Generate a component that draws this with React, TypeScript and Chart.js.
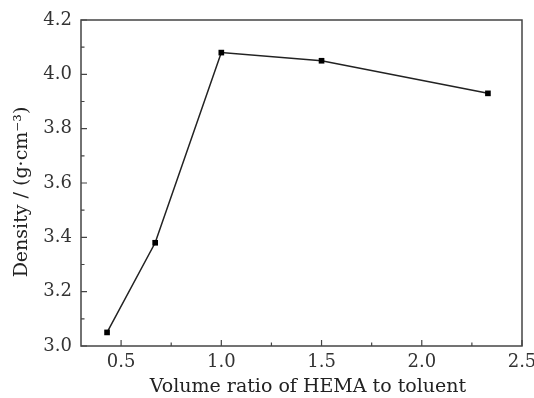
import { useEffect, useRef } from "react";
import { Chart, registerables } from "chart.js";
Chart.register(...registerables);

const ratios = [0.43, 0.67, 1.0, 1.5, 2.33];
const densities = [3.05, 3.38, 4.08, 4.05, 3.93];
const xTickValues = [0.5, 1.0, 1.5, 2.0, 2.5];
const yTickValues = [3.0, 3.2, 3.4, 3.6, 3.8, 4.0, 4.2];
const xMinorValues = [0.75, 1.25, 1.75, 2.25];
const yMinorValues = [3.1, 3.3, 3.5, 3.7, 3.9, 4.1];
const xTitle = "Volume ratio of HEMA to toluent";
const yTitle = "Density / (g·cm⁻³)";

const FONT = "'DejaVu Serif', 'Liberation Serif', serif";

const framePlugin = {
  id: "frameTicks",
  afterDraw(chart: any) {
    const { ctx, chartArea: a, scales } = chart;
    const x = scales.x, y = scales.y;
    ctx.save();
    ctx.strokeStyle = "#444";
    ctx.lineWidth = 1.5;
    ctx.strokeRect(a.left, a.top, a.right - a.left, a.bottom - a.top);
    ctx.lineWidth = 1.2;
    ctx.beginPath();
    for (const v of xTickValues) {
      const px = x.getPixelForValue(v);
      ctx.moveTo(px, a.bottom);
      ctx.lineTo(px, a.bottom - 6);
    }
    for (const v of xMinorValues) {
      const px = x.getPixelForValue(v);
      ctx.moveTo(px, a.bottom);
      ctx.lineTo(px, a.bottom - 3.5);
    }
    for (const v of yTickValues) {
      const py = y.getPixelForValue(v);
      ctx.moveTo(a.left, py);
      ctx.lineTo(a.left + 6, py);
    }
    for (const v of yMinorValues) {
      const py = y.getPixelForValue(v);
      ctx.moveTo(a.left, py);
      ctx.lineTo(a.left + 3.5, py);
    }
    ctx.stroke();
    // axis titles
    ctx.fillStyle = "#222";
    ctx.font = `19px ${FONT}`;
    ctx.textAlign = "center";
    ctx.textBaseline = "middle";
    ctx.fillText(xTitle, 308, 387);
    ctx.translate(22, 192);
    ctx.rotate(-Math.PI / 2);
    ctx.fillText(yTitle, 0, 0);
    ctx.restore();
  },
};

export default function App() {
  const ref = useRef<HTMLCanvasElement>(null);
  useEffect(() => {
    if (!ref.current) return;
    const chart = new Chart(ref.current, {
      type: "line",
      data: {
        datasets: [
          {
            data: ratios.map((r, i) => ({ x: r, y: densities[i] })),
            borderColor: "#222",
            backgroundColor: "#000",
            borderWidth: 1.5,
            pointStyle: "rect",
            pointRadius: 4,
            pointBorderWidth: 0,
            tension: 0,
          },
        ],
      },
      options: {
        responsive: false,
        animation: false,
        layout: { padding: { top: 20, right: 12, left: 0, bottom: 0 } },
        plugins: { legend: { display: false }, tooltip: { enabled: false } },
        scales: {
          x: {
            type: "linear",
            min: 0.3,
            max: 2.5,
            afterBuildTicks: (s: any) => {
              s.ticks = xTickValues.map((v) => ({ value: v }));
            },
            afterFit: (s: any) => {
              s.height = 52;
              s.paddingRight = 0;
              s.paddingLeft = 0;
            },
            grid: { display: false, drawTicks: false },
            border: { display: false },
            ticks: {
              color: "#333",
              font: { family: FONT, size: 18 },
              padding: 6,
              maxRotation: 0,
              callback: (v: any) => Number(v).toFixed(1),
            },
          },
          y: {
            type: "linear",
            min: 3.0,
            max: 4.2,
            afterBuildTicks: (s: any) => {
              s.ticks = yTickValues.map((v) => ({ value: v }));
            },
            afterFit: (s: any) => {
              s.width = 81;
              s.paddingTop = 0;
              s.paddingBottom = 0;
            },
            grid: { display: false, drawTicks: false },
            border: { display: false },
            ticks: {
              color: "#333",
              font: { family: FONT, size: 18 },
              padding: 9,
              callback: (v: any) => Number(v).toFixed(1),
            },
          },
        },
      },
      plugins: [framePlugin],
    });
    return () => chart.destroy();
  }, []);
  return (
    <div style={{ position: "fixed", left: 0, top: 0, width: 534, height: 398, background: "#fff" }}>
      <canvas ref={ref} width={534} height={398} />
    </div>
  );
}
